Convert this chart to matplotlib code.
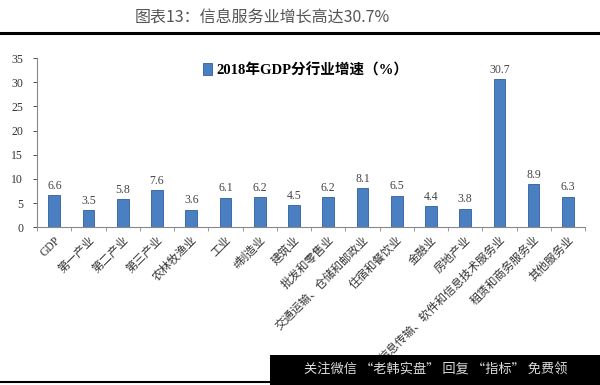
import numpy as np
import matplotlib.pyplot as plt

plt.rcParams['font.family'] = ['Liberation Serif', 'Noto Sans CJK SC', 'DejaVu Sans']

categories = ['GDP', '第一产业', '第二产业', '第三产业', '农林牧渔业', '工业', '#制造业',
              '建筑业', '批发和零售业', '交通运输、仓储和邮政业', '住宿和餐饮业', '金融业',
              '房地产业', '信息传输、软件和信息技术服务业', '租赁和商务服务业', '其他服务业']
growth = [6.6, 3.5, 5.8, 7.6, 3.6, 6.1, 6.2, 4.5, 6.2, 8.1, 6.5, 4.4, 3.8, 30.7, 8.9, 6.3]
yticks = [0, 5, 10, 15, 20, 25, 30, 35]

fig = plt.figure(figsize=(6, 3.85), dpi=100)
ax = fig.add_axes([0.062, 0.41, 0.913, 0.439])

x = np.arange(len(categories))
ax.bar(x, growth, width=0.34, color='#4a7fc1', edgecolor='#2f5f9e', linewidth=0.6,
       label='2018年GDP分行业增速（%）', zorder=2)
for xi, v in zip(x, growth):
    ax.text(xi, v + 0.7, f'{v:.1f}', ha='center', va='bottom', fontsize=8.5, color='#444444')

ax.set_xlim(-0.5, len(categories) - 0.5)
ax.set_ylim(0, 35)
ax.set_yticks(yticks)
ax.tick_params(axis='y', labelsize=8.5, colors='#333333', length=3, width=0.6, pad=7)
ax.set_xticks(x)
ax.set_xticklabels(categories, rotation=45, ha='right', rotation_mode='anchor',
                   fontsize=8.3, color='#333333')
ax.tick_params(axis='x', length=0, pad=5)
ax.set_xticks(np.arange(-0.5, len(categories)), minor=True)
ax.tick_params(axis='x', which='minor', length=3, width=0.6, color='#888888')
for s in ['top', 'right']:
    ax.spines[s].set_visible(False)
for s in ['left', 'bottom']:
    ax.spines[s].set_color('#888888')
    ax.spines[s].set_linewidth(0.8)

ax.legend(loc='upper center', bbox_to_anchor=(0.49, 1.05), frameon=False,
          handlelength=0.6, handleheight=0.9, handletextpad=0.3,
          prop={'family': ['Liberation Serif', 'Noto Sans CJK SC'], 'weight': 'bold', 'size': 10.5})

fig.text(0.437, 0.953, '图表13：信息服务业增长高达30.7%', ha='center', va='center',
         fontsize=11.5, color='#555555', family=['Noto Sans CJK SC'])
fig.add_artist(plt.Line2D([0, 1], [0.914, 0.914], color='black', linewidth=2.2))
fig.add_artist(plt.Line2D([0, 0.45], [0.008, 0.008], color='black', linewidth=1.5))

fig.patches.append(plt.Rectangle((0.45, 0), 0.55, 0.078, transform=fig.transFigure,
                                 facecolor='black', edgecolor='none', zorder=5))
fig.text(0.727, 0.039, '关注微信 “老韩实盘” 回复 “指标” 免费领', ha='center', va='center',
         fontsize=9.5, color='#dddddd', family=['Noto Sans CJK SC'], zorder=6)

fig.savefig('out.png', dpi=100)
